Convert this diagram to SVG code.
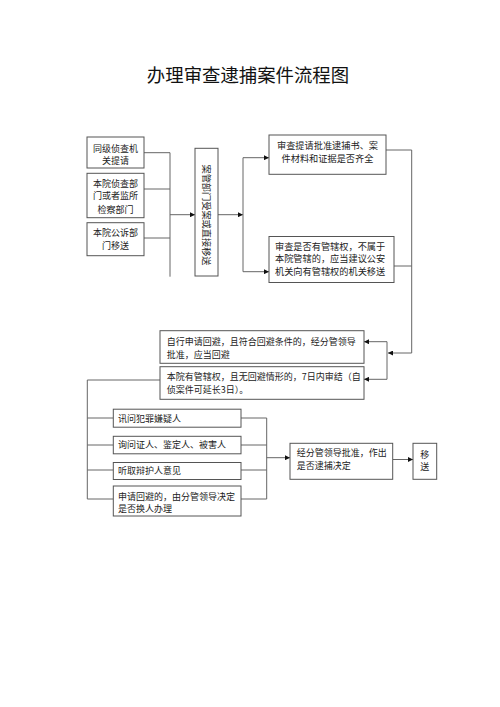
<svg xmlns="http://www.w3.org/2000/svg" width="500" height="707" viewBox="0 0 500 707">
<style>
.box{fill:#fff;stroke:#555;stroke-width:1}
.ln{fill:none;stroke:#666;stroke-width:1}
.t{font-family:"Noto Sans CJK SC","Liberation Serif",serif;font-size:9px;fill:#222}
.tl{font-family:"Noto Sans CJK SC","Liberation Serif",serif;font-size:9.2px;fill:#222}
.title{font-family:"Noto Sans CJK SC","Liberation Serif",serif;font-size:18.4px;fill:#111}
</style>
<defs>
<marker id="ar" viewBox="0 0 10 10" refX="10" refY="5" markerWidth="5" markerHeight="5" orient="auto" markerUnits="userSpaceOnUse">
<path d="M0,0 L10,5 L0,10 z" fill="#111"/>
</marker>
</defs>
<rect width="500" height="707" fill="#fff"/>
<text class="title" x="248" y="81.5" text-anchor="middle">办理审查逮捕案件流程图</text>

<g id="connectors">
<path class="ln" d="M144,152.7 H170 M144,189 H170 M144,238 H170 M170,152.7 V276.7"/>
<path class="ln" d="M170,214.7 H195" marker-end="url(#ar)"/>
<path class="ln" d="M218,214.7 H243" marker-end="url(#ar)"/>
<path class="ln" d="M243,157.7 V271.7"/>
<path class="ln" d="M243,157.7 H269" marker-end="url(#ar)"/>
<path class="ln" d="M243,271.7 H269" marker-end="url(#ar)"/>
<path class="ln" d="M386,150 H411.7 M394,266 H411.7 M411.7,150 V353"/>
<path class="ln" d="M411.7,353 H388" marker-end="url(#ar)"/>
<path class="ln" d="M387,341.7 V379.3"/>
<path class="ln" d="M387,341.7 H364" marker-end="url(#ar)"/>
<path class="ln" d="M387,379.3 H364" marker-end="url(#ar)"/>
<path class="ln" d="M160,380 H87.3 V499 M87.3,418 H113.3 M87.3,445 H113.3 M87.3,470 H113.3 M87.3,499 H113.3"/>
<path class="ln" d="M241,418 H266.7 M241,445 H266.7 M241,470 H266.7 M241,499 H266.7 M266.7,418 V499"/>
<path class="ln" d="M266.7,457.7 H290" marker-end="url(#ar)"/>
<path class="ln" d="M393,459.5 H413" marker-end="url(#ar)"/>
</g>

<g id="n1"><rect class="box" x="87" y="137" width="57" height="31"/>
<text class="t" x="115.5" y="151.5" text-anchor="middle">同级侦查机</text>
<text class="t" x="115.5" y="164" text-anchor="middle">关提请</text></g>

<g id="n2"><rect class="box" x="87" y="173.3" width="57" height="44.4"/>
<text class="t" x="115.5" y="186.5" text-anchor="middle">本院侦查部</text>
<text class="t" x="115.5" y="199.3" text-anchor="middle">门或者监所</text>
<text class="t" x="115.5" y="212.5" text-anchor="middle">检察部门</text></g>

<g id="n3"><rect class="box" x="87" y="222.7" width="57" height="33"/>
<text class="t" x="115.5" y="236" text-anchor="middle">本院公诉部</text>
<text class="t" x="115.5" y="249.3" text-anchor="middle">门移送</text></g>

<g id="n4"><rect class="box" x="195" y="148.3" width="23" height="127.7"/>
<text class="tl" transform="translate(206.5,215) rotate(90)" x="0" y="3.3" text-anchor="middle">案管部门受案或直接移送</text></g>

<g id="n5"><rect class="box" x="269" y="135" width="117" height="39.3"/>
<text class="tl" x="327.5" y="149.3" text-anchor="middle">审查提请批准逮捕书、案</text>
<text class="tl" x="327.5" y="161.8" text-anchor="middle">件材料和证据是否齐全</text></g>

<g id="n6"><rect class="box" x="269" y="236.5" width="125" height="46"/>
<text class="tl" x="275" y="249.6">审查是否有管辖权，不属于</text>
<text class="tl" x="275" y="262.2">本院管辖的，应当建议公安</text>
<text class="tl" x="275" y="274.8">机关向有管辖权的机关移送</text></g>

<g id="n7"><rect class="box" x="160" y="330.7" width="204" height="32.6"/>
<text class="t" x="166.7" y="345.2">自行申请回避，且符合回避条件的，经分管领导</text>
<text class="t" x="166.7" y="357.6">批准，应当回避</text></g>

<g id="n8"><rect class="box" x="160" y="366.7" width="204" height="32.6"/>
<text class="t" x="166.7" y="379.7">本院有管辖权，且无回避情形的，7日内审结（自</text>
<text class="t" x="166.7" y="392.6">侦案件可延长3日）。</text></g>

<g id="n9"><rect class="box" x="113.3" y="409.2" width="127.7" height="18"/>
<text class="t" x="118" y="421.5">讯问犯罪嫌疑人</text></g>

<g id="n10"><rect class="box" x="113.3" y="436.3" width="127.7" height="17.5"/>
<text class="t" x="118" y="448.3">询问证人、鉴定人、被害人</text></g>

<g id="n11"><rect class="box" x="113.3" y="462.5" width="127.7" height="17"/>
<text class="t" x="118" y="474.3">听取辩护人意见</text></g>

<g id="n12"><rect class="box" x="113.3" y="486" width="127.7" height="30"/>
<text class="t" x="118" y="499.5">申请回避的，由分管领导决定</text>
<text class="t" x="118" y="511.8">是否换人办理</text></g>

<g id="n13"><rect class="box" x="290" y="443.3" width="102.7" height="36"/>
<text class="t" x="296.7" y="456.3">经分管领导批准，作出</text>
<text class="t" x="296.7" y="468.5">是否逮捕决定</text></g>

<g id="n14"><rect class="box" x="413" y="443.3" width="23.7" height="36"/>
<text class="t" x="424.8" y="457.5" text-anchor="middle">移</text>
<text class="t" x="424.8" y="469.8" text-anchor="middle">送</text></g>
</svg>
